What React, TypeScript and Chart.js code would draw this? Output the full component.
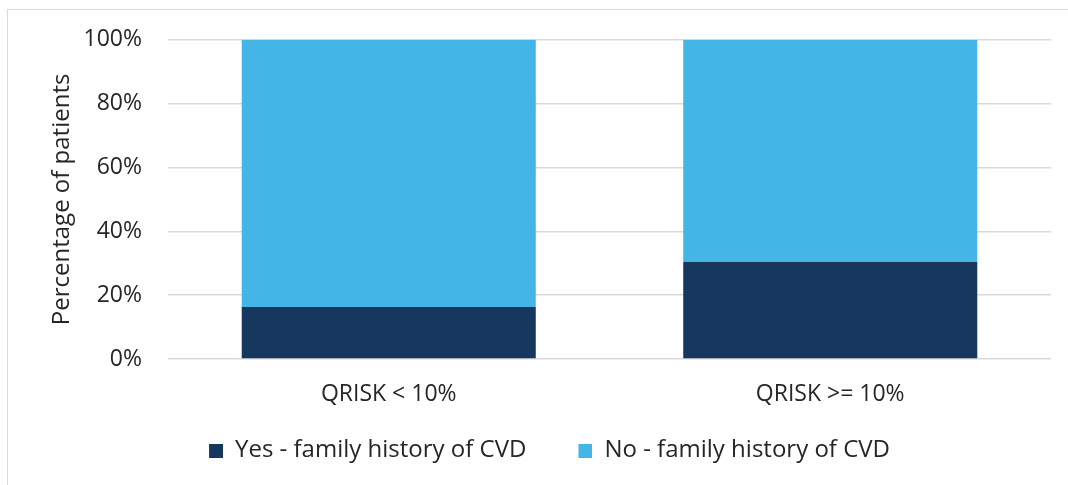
import React, { useEffect, useRef } from "react";
import { Chart, registerables } from "chart.js";

Chart.register(...registerables);

const categories = ["QRISK < 10%", "QRISK >= 10%"];
const yesFamilyHistory = [16.3, 30.4];
const noFamilyHistory = [83.7, 69.6];
const seriesLabels = ["Yes - family history of CVD", "No - family history of CVD"];
const seriesColors = ["#16375E", "#43B5E6"];
const yTicks = [0, 20, 40, 60, 80, 100];

const FONT = "'Open Sans', 'Noto Sans', sans-serif";
const TEXT = "#262626";
const SWATCH = 14;
const SWATCH_SLOT = 56;

const frame = {
  id: "frame",
  beforeDraw(chart: any) {
    const ctx = chart.ctx;
    ctx.save();
    ctx.strokeStyle = "#d9d9d9";
    ctx.lineWidth = 1;
    ctx.strokeRect(7.5, 9.5, 1200, 600);
    ctx.restore();
  },
};

function makeSwatch(color: string) {
  const c = document.createElement("canvas");
  c.width = SWATCH_SLOT;
  c.height = SWATCH;
  const g = c.getContext("2d");
  if (g) {
    g.fillStyle = color;
    g.fillRect(SWATCH_SLOT - SWATCH, 0, SWATCH, SWATCH);
  }
  return c;
}

export default function App() {
  const ref = useRef<HTMLCanvasElement>(null);
  useEffect(() => {
    if (!ref.current) return;
    const swatches = seriesColors.map(makeSwatch);
    const chart = new Chart(ref.current, {
      type: "bar",
      data: {
        labels: categories,
        datasets: [
          { label: seriesLabels[0], data: yesFamilyHistory, backgroundColor: seriesColors[0], borderWidth: 0 },
          { label: seriesLabels[1], data: noFamilyHistory, backgroundColor: seriesColors[1], borderWidth: 0 },
        ],
      },
      options: {
        responsive: false,
        animation: false,
        devicePixelRatio: 1,
        datasets: { bar: { barPercentage: 0.666, categoryPercentage: 1 } },
        layout: { padding: { left: 6, top: 39, right: 17, bottom: 12.5 } },
        plugins: {
          legend: {
            position: "bottom",
            labels: {
              usePointStyle: true,
              pointStyleWidth: SWATCH_SLOT,
              boxWidth: SWATCH_SLOT,
              boxHeight: SWATCH,
              padding: 10,
              color: TEXT,
              font: { family: FONT, size: 24 },
              generateLabels: (c: any) =>
                Chart.defaults.plugins.legend.labels
                  .generateLabels(c)
                  .map((item: any, i: number) => ({ ...item, pointStyle: swatches[i] })),
            },
          },
          tooltip: { enabled: false },
        },
        scales: {
          x: {
            stacked: true,
            grid: { display: false, drawTicks: false },
            border: { display: false },
            ticks: { padding: 22, color: TEXT, font: { family: FONT, size: 23 } },
            afterFit: (s: any) => { s.height = 69.5; },
          },
          y: {
            stacked: true,
            min: 0,
            max: 100,
            afterBuildTicks: (s: any) => { s.ticks = yTicks.map((v) => ({ value: v })); },
            grid: { color: "#d9d9d9", lineWidth: 1.5, drawTicks: false },
            border: { display: false },
            ticks: {
              padding: 26,
              color: TEXT,
              font: { family: FONT, size: 23 },
              callback: (v: any) => v + "%",
            },
            title: {
              display: true,
              text: "Percentage of patients",
              color: TEXT,
              font: { family: FONT, size: 24 },
              padding: { top: 42, bottom: 0 },
            },
            afterFit: (s: any) => { s.width = 162; },
          },
        },
      },
      plugins: [frame],
    });
    return () => chart.destroy();
  }, []);
  return (
    <canvas
      ref={ref}
      width={1068}
      height={485}
      style={{ position: "absolute", left: 0, top: 0, display: "block" }}
    />
  );
}
